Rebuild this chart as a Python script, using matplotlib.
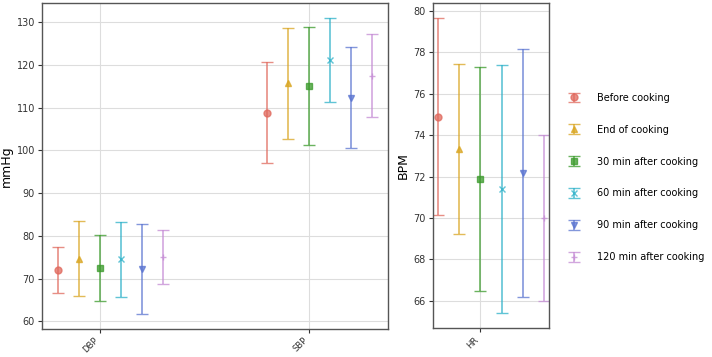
import matplotlib
matplotlib.use("Agg")
from matplotlib import pyplot as plt
import numpy as np

groups = ["Before cooking", "End of cooking", "30 min after cooking",
          "60 min after cooking", "90 min after cooking", "120 min after cooking"]
colors = ["#e0685c", "#d9a520", "#3a9a2a", "#2bb0c8", "#5a74d0", "#c48ad4"]
markers = ["o", "^", "s", "x", "v", "+"]

bp_labels = ["DBP", "SBP"]
bp_means = [
    [72.0, 108.8],
    [74.7, 115.7],
    [72.4, 115.0],
    [74.5, 121.1],
    [72.3, 112.3],
    [75.1, 117.5],
]
bp_sd = [
    [5.45, 11.8],
    [8.85, 13.0],
    [7.7, 13.8],
    [8.7, 9.9],
    [10.6, 11.85],
    [6.25, 9.65],
]

hr_labels = ["HR"]
hr_means = [74.9, 73.33, 71.88, 71.4, 72.17, 69.99]
hr_sd = [4.77, 4.1, 5.4, 6.0, 5.98, 4.0]

plt.rcParams["font.size"] = 7

W, H = 712, 357
fig = plt.figure(figsize=(W / 100, H / 100), dpi=100)
ax1 = fig.add_axes([42 / W, 28 / H, 346 / W, 326 / H])
ax2 = fig.add_axes([433 / W, 29 / H, 116 / W, 325 / H])

step = 0.1
x_bp = np.arange(len(bp_labels))
for i, g in enumerate(groups):
    off = (i - 2) * step
    ax1.errorbar(x_bp + off, bp_means[i], yerr=bp_sd[i], fmt=markers[i], color=colors[i],
                 capsize=4, elinewidth=1.2, markersize=5, alpha=0.75, label=g)
    ax2.errorbar([off], [hr_means[i]], yerr=[hr_sd[i]], fmt=markers[i], color=colors[i],
                 capsize=4, elinewidth=1.2, markersize=5, alpha=0.75, label=g)

ax1.set_xticks(x_bp)
ax1.set_xticklabels(bp_labels, rotation=45, ha="right", fontsize=6)
ax1.set_ylabel("mmHg", fontsize=9, labelpad=3)
ax1.set_yticks(range(60, 131, 10))

ax2.set_xticks([0])
ax2.set_xticklabels(hr_labels, rotation=45, ha="right", fontsize=6)
ax2.set_ylabel("BPM", fontsize=9, labelpad=3)
ax2.set_yticks(range(66, 81, 2))

for ax in (ax1, ax2):
    ax.grid(True, color="#dddddd", linewidth=0.8)
    ax.set_axisbelow(True)
    for s in ax.spines.values():
        s.set_color("#555555")
        s.set_linewidth(1.0)
    ax.tick_params(colors="#333333", length=3, pad=2)

ax2.legend(loc="center left", bbox_to_anchor=(1.06, 0.463), frameon=False,
           fontsize=7.0, labelspacing=2.25, handletextpad=1.3)

plt.savefig("out.png", dpi=100)
